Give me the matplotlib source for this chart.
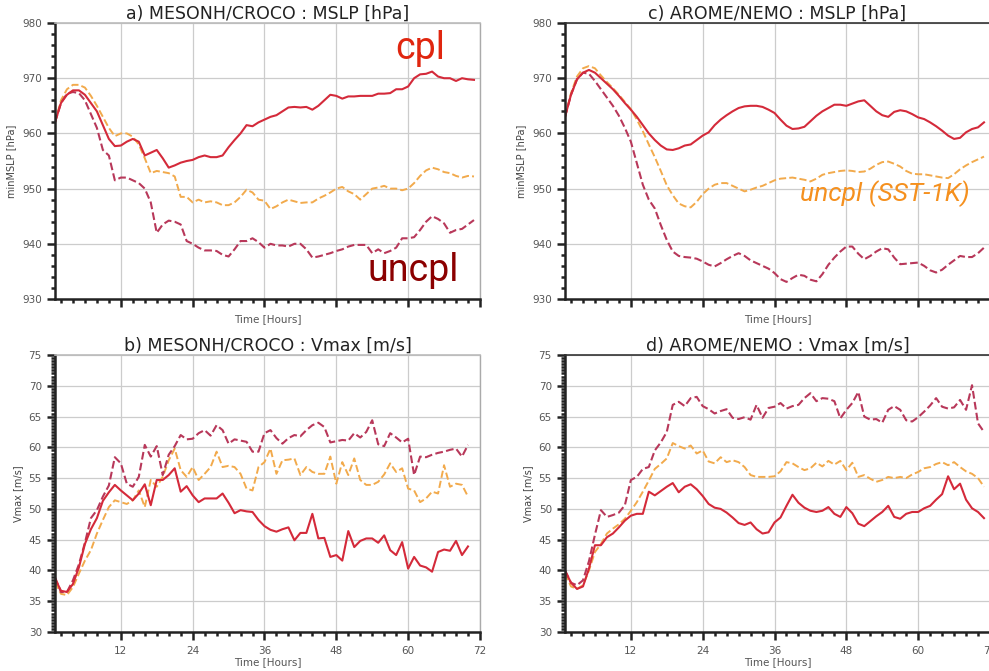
import numpy as np
import matplotlib
matplotlib.use('Agg')
from matplotlib import pyplot as plt
from matplotlib.ticker import MultipleLocator

# hours since start
hours = np.arange(1, 72)

# a) MESONH/CROCO minimum MSLP [hPa]
mslp_a_cpl = [962, 965.5, 967, 967.8, 967.8, 967, 965.5, 964, 961.5, 959,
              957.7, 957.8, 958.5, 959, 958.5, 956, 956.5, 957, 955.5, 953.8,
              954.2, 954.7, 955, 955.2, 955.7, 956, 955.7, 955.7, 956, 957.5,
              958.8, 960, 961.5, 961.3, 962, 962.5, 963, 963.3, 964, 964.7,
              964.8, 964.7, 964.8, 964.3, 965, 966, 967, 966.8, 966.3, 966.7,
              966.7, 966.8, 966.8, 966.8, 967.2, 967.2, 967.3, 968, 968, 968.5,
              970, 970.7, 970.8, 971.2, 970.3, 970, 970, 969.5, 970, 969.8,
              969.7]
mslp_a_uncpl = [962, 965.5, 967.2, 967.5, 967.3, 966, 963.5, 961, 957, 956,
                951.5, 952, 952, 951.5, 951, 950, 947.5, 942, 943.5, 944.2,
                944, 943.5, 940.5, 940, 939.3, 938.8, 938.8, 938.7, 938, 937.7,
                939, 940.5, 940.5, 941, 940.3, 939.3, 940, 939.7, 939.7, 939.5,
                940, 940, 939, 937.5, 937.7, 938, 938.3, 938.7, 939, 939.5,
                939.8, 939.8, 939.8, 938.3, 939, 938.3, 938.7, 939.3, 941, 941,
                941.2, 942.5, 944, 945, 944.5, 943.7, 942, 942.5, 942.7, 943.5,
                944.3]
mslp_a_sst = [962, 966, 968, 968.8, 968.8, 968.3, 966.8, 965, 963, 961,
              959.5, 960, 960, 959.4, 958, 955.5, 952.8, 953.2, 953, 952.8,
              952.2, 948.5, 948.5, 947.5, 948, 947.5, 947.7, 947.5, 947, 947,
              947.5, 948.5, 949.8, 949.3, 948, 947.8, 946.3, 946.8, 947.5, 948,
              947.7, 947.4, 947.5, 947.5, 948.2, 948.7, 949.3, 950, 950.3, 949.5,
              949, 948, 949, 950, 950.2, 950.5, 950, 950, 949.7, 950,
              951, 952.3, 953.3, 953.8, 953.5, 953, 952.8, 952.3, 952, 952.3,
              952.2]

# c) AROME/NEMO minimum MSLP [hPa]
mslp_c_cpl = [963, 967, 969.8, 971, 971.5, 971, 970, 969, 968, 966.8,
              965.5, 964.3, 963, 961.5, 960, 958.8, 957.8, 957.1, 957, 957.3,
              957.8, 958, 958.8, 959.6, 960.2, 961.5, 962.5, 963.3, 964, 964.6,
              964.9, 965, 965, 964.8, 964.3, 963.7, 962.5, 961.4, 960.8, 960.9,
              961.2, 962.2, 963.2, 964, 964.6, 965.2, 965.2, 965, 965.4, 965.8,
              966, 965, 964, 963.3, 963, 963.9, 964.2, 964, 963.5, 962.9,
              962.6, 962, 961.3, 960.5, 959.6, 959, 959.2, 960.2, 960.8, 961.1,
              962]
mslp_c_uncpl = [963, 967, 969.8, 971, 970.8, 969.5, 968, 966.5, 965, 963.2,
                961, 958.5, 954.6, 950.7, 948, 946.4, 943.4, 940.7, 938.6, 937.8,
                937.6, 937.5, 937.3, 936.8, 936.2, 935.9, 936.5, 937.2, 937.8, 938.3,
                937.8, 937, 936.5, 936, 935.5, 934.7, 933.6, 933.1, 933.8, 934.4,
                934.2, 933.5, 933.2, 934.5, 936.2, 937.5, 938.6, 939.5, 939.5, 938.2,
                937.2, 937.8, 938.6, 939.2, 939, 937.5, 936.3, 936.4, 936.5, 936.6,
                936, 935.2, 934.8, 935.3, 936.2, 937, 937.8, 937.6, 937.6, 938.3,
                939.3]
mslp_c_sst = [963, 967.3, 970.3, 971.8, 972.2, 971.8, 970.5, 969.3, 968.2, 967,
              965.7, 964.4, 962.5, 960.4, 958, 955.7, 953.2, 950.6, 948.8, 947.3,
              946.8, 946.6, 947.6, 949, 950, 950.7, 951, 951, 950.5, 950,
              949.5, 949.8, 950.2, 950.5, 951, 951.5, 951.8, 951.9, 952, 951.8,
              951.6, 951.3, 951.8, 952.5, 952.8, 953, 953.2, 953.3, 953.2, 953,
              953.1, 953.6, 954.3, 954.8, 954.9, 954.5, 954, 953.2, 952.7, 952.6,
              952.6, 952.4, 952.2, 952, 951.9, 952.6, 953.5, 954.2, 954.8, 955.3,
              955.8]

# b) MESONH/CROCO Vmax [m/s] (70 hours)
vmax_b_cpl = [38.7, 36.7, 36.5, 37.8, 40.5, 44.3, 46.7, 48.5, 51.3, 52.7,
              53.9, 53, 52.2, 51.4, 52.5, 54, 50.6, 54.7, 54.7, 55.5,
              56.6, 52.8, 53.7, 52.2, 51.1, 51.7, 51.7, 51.7, 52.5, 51,
              49.3, 49.8, 49.6, 49.5, 48.2, 47.2, 46.6, 46.3, 46.7, 47,
              44.9, 46.1, 46.1, 49.2, 45.2, 45.3, 42.2, 42.5, 41.6, 46.4,
              43.8, 44.8, 45.2, 45.2, 44.5, 45.7, 43.3, 42.5, 44.6, 40.3,
              42.2, 40.8, 40.5, 39.8, 43, 43.4, 43.2, 44.8, 42.5, 43.9]
vmax_b_uncpl = [38.9, 36.5, 36.5, 38.4, 41, 44.5, 48.5, 49.8, 52, 53.8,
                58.4, 57.4, 54.1, 53.6, 55.2, 60.4, 58.5, 60.2, 55.5, 58.8,
                60.2, 62, 61.3, 61.4, 62.3, 62.8, 61.9, 63.6, 62.8, 60.6,
                61.3, 61.1, 60.9, 59.3, 59.3, 62.3, 62.8, 61.5, 60.6, 61.5,
                62, 61.8, 62.8, 63.6, 64, 63.3, 60.8, 61, 61.2, 61.1,
                62.3, 61.6, 62.5, 64.4, 60.5, 60.2, 62.3, 61.6, 60.8, 61.4,
                55.5, 58.5, 58.4, 58.8, 59.1, 59.3, 59.6, 59.8, 58.5, 60.4]
vmax_b_sst = [38.1, 36.2, 36.0, 37.3, 39.5, 41.6, 43.3, 46.0, 48.2, 50.3,
              51.4, 51.1, 50.8, 51.4, 53.0, 50.3, 54.7, 53.6, 55.2, 57.9,
              59.8, 56.3, 55.2, 56.8, 54.7, 55.7, 56.8, 59.3, 56.8, 57.0,
              56.8, 55.7, 53.3, 53.0, 56.8, 57.6, 59.8, 55.7, 57.9, 58.0,
              58.2, 55.5, 56.8, 56.0, 55.7, 55.7, 58.5, 54.1, 57.6, 55.5,
              58.2, 54.7, 53.9, 53.9, 54.4, 55.6, 57.4, 56.0, 56.6, 53.3,
              53.0, 51.1, 51.7, 52.8, 52.5, 57.1, 53.6, 54.1, 53.9, 52.0]

# d) AROME/NEMO Vmax [m/s]
vmax_d_cpl = [40, 38, 37, 37.4, 40.3, 44.1, 44.1, 45.4, 46, 47,
              48.1, 48.9, 49.2, 49.2, 52.8, 52.2, 52.9, 53.6, 54.2, 52.7,
              53.6, 54, 53.2, 52.1, 50.8, 50.2, 50, 49.4, 48.6, 47.7,
              47.4, 47.8, 46.7, 46, 46.2, 47.8, 48.6, 50.5, 52.3, 51,
              50.2, 49.7, 49.5, 49.7, 50.3, 49.2, 48.7, 50.3, 49.3, 47.6,
              47.2, 48, 48.8, 49.5, 50.5, 48.7, 48.4, 49.2, 49.5, 49.5,
              50.1, 50.5, 51.5, 52.4, 55.3, 53.2, 54.1, 51.5, 50.1, 49.5,
              48.5]
vmax_d_uncpl = [40, 38, 37.6, 38.4, 41.5, 45.8, 49.8, 48.7, 49, 49.4,
                50.6, 54.7, 55.2, 56.5, 56.8, 59.5, 60.8, 62.5, 66.9, 67.4,
                66.7, 68, 68.2, 66.7, 66.2, 65.5, 65.9, 66.2, 64.8, 64.6,
                64.9, 64.5, 66.9, 64.8, 66.4, 66.6, 67.2, 66.3, 66.7, 66.9,
                68, 68.8, 67.5, 68, 67.9, 67.5, 64.7, 66.1, 67.2, 69,
                65, 64.5, 64.6, 64, 66.1, 66.7, 66.1, 64.4, 64.2, 64.9,
                65.8, 66.8, 68, 66.6, 66.3, 66.5, 67.7, 66.1, 70.1, 63.9,
                62.5]
vmax_d_sst = [39.5, 37.4, 37, 37.6, 40, 43, 44.3, 46, 46.8, 47.5,
              48.4, 49.7, 51.1, 52.8, 54.6, 56.5, 57.3, 58.2, 60.7, 60.2,
              59.8, 60.3, 59, 59.5, 57.7, 57.4, 58.4, 57.6, 57.9, 57.6,
              56.8, 55.5, 55.2, 55.2, 55.2, 55.3, 56.1, 57.6, 57.4, 56.8,
              56.3, 56.6, 57.5, 56.9, 57.8, 57.2, 57.8, 56.3, 57.5, 55.2,
              55.5, 54.9, 54.4, 54.7, 55.2, 55, 55.2, 55, 55.6, 56,
              56.6, 56.8, 57.3, 57.6, 57.1, 57.6, 56.8, 56.1, 55.7, 55,
              53.6]

c_cpl = '#d42a3a'
c_uncpl = '#b8385a'
c_sst = '#f2aa4c'


def style_axis(ax, ymin, ymax, ymajor, yminor, ylabel, xlabels, top_dark=False):
    ax.set_xlim(1, 72)
    ax.set_ylim(ymin, ymax)
    ax.xaxis.set_major_locator(MultipleLocator(12))
    ax.xaxis.set_minor_locator(MultipleLocator(2))
    ax.yaxis.set_major_locator(MultipleLocator(ymajor))
    ax.yaxis.set_minor_locator(MultipleLocator(yminor))
    ax.grid(True, which='major', color='#cccccc', lw=0.9)
    ax.set_axisbelow(True)
    ax.tick_params(which='major', direction='out', length=6, width=1.8,
                   labelsize=7.5, labelcolor='#555555', color='#222222')
    ax.tick_params(which='minor', direction='out', length=3, width=1.8,
                   color='#222222')
    ax.tick_params(axis='x', which='major', pad=4)
    for s in ['left', 'bottom']:
        ax.spines[s].set_linewidth(1.8)
        ax.spines[s].set_color('#222222')
    ax.spines['right'].set_color('#aaaaaa')
    ax.spines['right'].set_linewidth(1.0)
    ax.spines['top'].set_color('#333333' if top_dark else '#bbbbbb')
    ax.spines['top'].set_linewidth(1.2)
    ax.set_ylabel(ylabel, fontsize=7, color='#444444', labelpad=4)
    ax.set_xlabel('Time [Hours]', fontsize=7.5, color='#555555', labelpad=1)
    if not xlabels:
        ax.set_xticklabels([])


fig = plt.figure(figsize=(9.89, 6.71), dpi=100)
ax_a = fig.add_axes([0.0556, 0.5544, 0.4297, 0.4113])
ax_c = fig.add_axes([0.5713, 0.5544, 0.4297, 0.4113])
ax_b = fig.add_axes([0.0556, 0.0581, 0.4297, 0.4128])
ax_d = fig.add_axes([0.5713, 0.0581, 0.4297, 0.4128])

for ax, cpl, uncpl, sst, title in [
        (ax_a, mslp_a_cpl, mslp_a_uncpl, mslp_a_sst, 'a) MESONH/CROCO : MSLP [hPa]'),
        (ax_c, mslp_c_cpl, mslp_c_uncpl, mslp_c_sst, 'c) AROME/NEMO : MSLP [hPa]')]:
    ax.plot(hours, sst, color=c_sst, ls='--', lw=1.4)
    ax.plot(hours, uncpl, color=c_uncpl, ls='--', lw=1.5)
    ax.plot(hours, cpl, color=c_cpl, lw=1.5)
    style_axis(ax, 930, 980, 10, 2, 'minMSLP [hPa]', False, top_dark=(ax is ax_c))
    ax.set_title(title, fontsize=12.5, color='#222222', pad=3)

for ax, cpl, uncpl, sst, title in [
        (ax_b, vmax_b_cpl, vmax_b_uncpl, vmax_b_sst, 'b) MESONH/CROCO : Vmax [m/s]'),
        (ax_d, vmax_d_cpl, vmax_d_uncpl, vmax_d_sst, 'd) AROME/NEMO : Vmax [m/s]')]:
    n = len(cpl)
    ax.plot(hours[:n], sst, color=c_sst, ls='--', lw=1.4)
    ax.plot(hours[:n], uncpl, color=c_uncpl, ls='--', lw=1.5)
    ax.plot(hours[:n], cpl, color=c_cpl, lw=1.5)
    style_axis(ax, 30, 75, 5, 0.5, 'Vmax [m/s]', True, top_dark=(ax is ax_d))
    ax.set_title(title, fontsize=12.5, color='#222222', pad=3)

# annotations
fig.text(0.425, 0.928, 'cpl', color='#e0260f', fontsize=27,
         family='Roboto', ha='center', va='center')
fig.text(0.418, 0.597, 'uncpl', color='#8b0000', fontsize=27,
         family='Roboto', ha='center', va='center')
fig.text(0.895, 0.712, 'uncpl (SST-1K)', color='#f5901e', fontsize=19,
         family='Roboto', style='italic', ha='center', va='center')

fig.savefig('out.png', dpi=100)
